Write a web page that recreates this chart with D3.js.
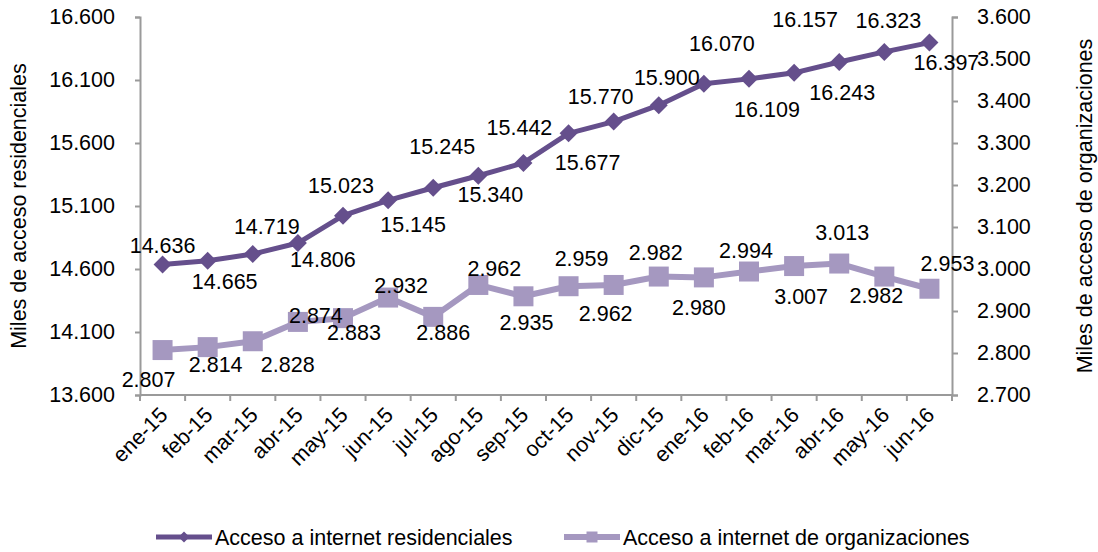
<!DOCTYPE html>
<html>
<head>
<meta charset="utf-8">
<script src="https://cdn.jsdelivr.net/npm/d3@7"></script>
<style>
  html, body { margin: 0; padding: 0; background: #fff; }
  svg { display: block; }
  text { font-family: "Liberation Sans", Arial, sans-serif; fill: #000; }
</style>
</head>
<body>
<svg id="chart" width="1098" height="552"></svg>
<script>
// ---- data ----
const categories = ["ene-15","feb-15","mar-15","abr-15","may-15","jun-15","jul-15","ago-15","sep-15",
  "oct-15","nov-15","dic-15","ene-16","feb-16","mar-16","abr-16","may-16","jun-16"];
const residenciales = [14636,14665,14719,14806,15023,15145,15245,15340,15442,15677,15770,15900,16070,16109,16157,16243,16323,16397];
const organizaciones = [2807,2814,2828,2874,2883,2932,2886,2962,2935,2959,2962,2982,2980,2994,3007,3013,2982,2953];
const leftTicks = [13600,14100,14600,15100,15600,16100,16600];
const rightTicks = [2700,2800,2900,3000,3100,3200,3300,3400,3500,3600];
const seriesNames = ["Acceso a internet residenciales","Acceso a internet de organizaciones"];
const axisTitles = ["Miles de acceso residenciales","Miles de acceso de organizaciones"];

// ---- layout (label nudges relative to marker) ----
const resLabelDx = [0,17,14,25,-2,25,9,12,-4,19,-13,8,18,18,11,3,4,17];
const resLabelDy = [-19,21,-28,16,-30,24,-41,19,-35,29,-25,-28,-40,31,-53,30,-31,20];
const orgLabelDx = [-14,8,35,18,11,13,10,16,3,13,-8,-3,-5,-3,7,3,-8,18];
const orgLabelDy = [29,17,23,-6,14,-12,16,-16,26,-28,29,-24,30,-21,30,-31,19,-25];

const darkColor = "#654f8c";
const lightColor = "#a598c0";
const axisColor = "#9a9a9a";
const fontSize = 21.5;

const svg = d3.select("#chart");
const pLeft = 140, pRight = 952, pTop = 17, pBottom = 395;

const x = d3.scaleBand().domain(categories).range([pLeft, pRight]).padding(0);
const yL = d3.scaleLinear().domain([13600,16600]).range([pBottom, pTop]);
const yR = d3.scaleLinear().domain([2700,3600]).range([pBottom, pTop]);

const loc = d3.formatLocale({decimal: ",", thousands: ".", grouping: [3], currency: ["",""]});
const fmt = loc.format(",");

const cx = c => x(c) + x.bandwidth() / 2;

// ---- axes ----
const gL = svg.append("g").attr("transform", `translate(${pLeft},0)`)
  .call(d3.axisLeft(yL).tickValues(leftTicks).tickSize(5).tickPadding(20).tickFormat(fmt));
const gR = svg.append("g").attr("transform", `translate(${pRight},0)`)
  .call(d3.axisRight(yR).tickValues(rightTicks).tickSize(6).tickPadding(19).tickFormat(fmt));
[gL, gR].forEach(g => {
  g.select(".domain").attr("stroke", axisColor).attr("stroke-width", 2);
  g.selectAll(".tick line").attr("stroke", axisColor).attr("stroke-width", 2);
  g.selectAll(".tick text").attr("font-size", fontSize).attr("font-family", '"Liberation Sans", Arial, sans-serif').attr("fill", "#000");
});

// bottom axis
const gB = svg.append("g");
gB.append("line").attr("x1", pLeft).attr("x2", pRight).attr("y1", pBottom).attr("y2", pBottom)
  .attr("stroke", axisColor).attr("stroke-width", 2);
gB.selectAll("line.tk").data(d3.range(categories.length + 1)).join("line").attr("class", "tk")
  .attr("x1", i => pLeft + i * x.step()).attr("x2", i => pLeft + i * x.step())
  .attr("y1", pBottom).attr("y2", pBottom + 6)
  .attr("stroke", axisColor).attr("stroke-width", 2);
gB.selectAll("text").data(categories).join("text")
  .attr("transform", d => `translate(${cx(d) + 1},${pBottom + 16}) rotate(-45)`)
  .attr("text-anchor", "end").attr("dy", "0.35em")
  .attr("font-size", fontSize).text(d => d);

// axis titles
svg.append("text").attr("transform", `translate(18,${(pTop+pBottom)/2}) rotate(-90)`)
  .attr("text-anchor", "middle").attr("dy", "0.35em").attr("font-size", fontSize).text(axisTitles[0]);
svg.append("text").attr("transform", `translate(1084,${(pTop+pBottom)/2}) rotate(-90)`)
  .attr("text-anchor", "middle").attr("dy", "0.35em").attr("font-size", fontSize).text(axisTitles[1]);

// ---- series ----
const diamond = (s) => `M0,${-s}L${s},0L0,${s}L${-s},0Z`;
const square = (s) => `M${-s},${-s}H${s}V${s}H${-s}Z`;

// organizaciones
const orgLine = d3.line().x((d,i) => cx(categories[i])).y(d => yR(d));
svg.append("path").datum(organizaciones).attr("d", orgLine)
  .attr("fill", "none").attr("stroke", lightColor).attr("stroke-width", 6).attr("stroke-linejoin", "round");
svg.selectAll("path.orgm").data(organizaciones).join("path").attr("class", "orgm")
  .attr("transform", (d,i) => `translate(${cx(categories[i])},${yR(d)})`)
  .attr("d", square(10)).attr("fill", lightColor);

// residenciales
const resLine = d3.line().x((d,i) => cx(categories[i])).y(d => yL(d));
svg.append("path").datum(residenciales).attr("d", resLine)
  .attr("fill", "none").attr("stroke", darkColor).attr("stroke-width", 5).attr("stroke-linejoin", "round");
svg.selectAll("path.resm").data(residenciales).join("path").attr("class", "resm")
  .attr("transform", (d,i) => `translate(${cx(categories[i])},${yL(d)})`)
  .attr("d", diamond(9)).attr("fill", darkColor);

// labels
svg.selectAll("text.orgl").data(organizaciones).join("text").attr("class", "orgl")
  .attr("x", (d,i) => cx(categories[i]) + orgLabelDx[i])
  .attr("y", (d,i) => yR(d) + orgLabelDy[i])
  .attr("dy", "0.35em").attr("text-anchor", "middle").attr("font-size", fontSize)
  .text(d => fmt(d));
svg.selectAll("text.resl").data(residenciales).join("text").attr("class", "resl")
  .attr("x", (d,i) => cx(categories[i]) + resLabelDx[i])
  .attr("y", (d,i) => yL(d) + resLabelDy[i])
  .attr("dy", "0.35em").attr("text-anchor", "middle").attr("font-size", fontSize)
  .text(d => fmt(d));

// ---- legend ----
const legendItems = [
  {name: seriesNames[0], color: darkColor, x0: 156, marker: diamond(5.5), sw: 5},
  {name: seriesNames[1], color: lightColor, x0: 564, marker: square(5.5), sw: 6}
];
const lg = svg.selectAll("g.leg").data(legendItems).join("g").attr("class", "leg")
  .attr("transform", d => `translate(${d.x0},537)`);
lg.append("line").attr("x1", 0).attr("x2", 56).attr("y1", 0).attr("y2", 0)
  .attr("stroke", d => d.color).attr("stroke-width", d => d.sw);
lg.append("path").attr("transform", "translate(28,0)").attr("d", d => d.marker).attr("fill", d => d.color);
lg.append("text").attr("x", 59).attr("y", 8).attr("font-size", fontSize).text(d => d.name);
</script>
</body>
</html>
